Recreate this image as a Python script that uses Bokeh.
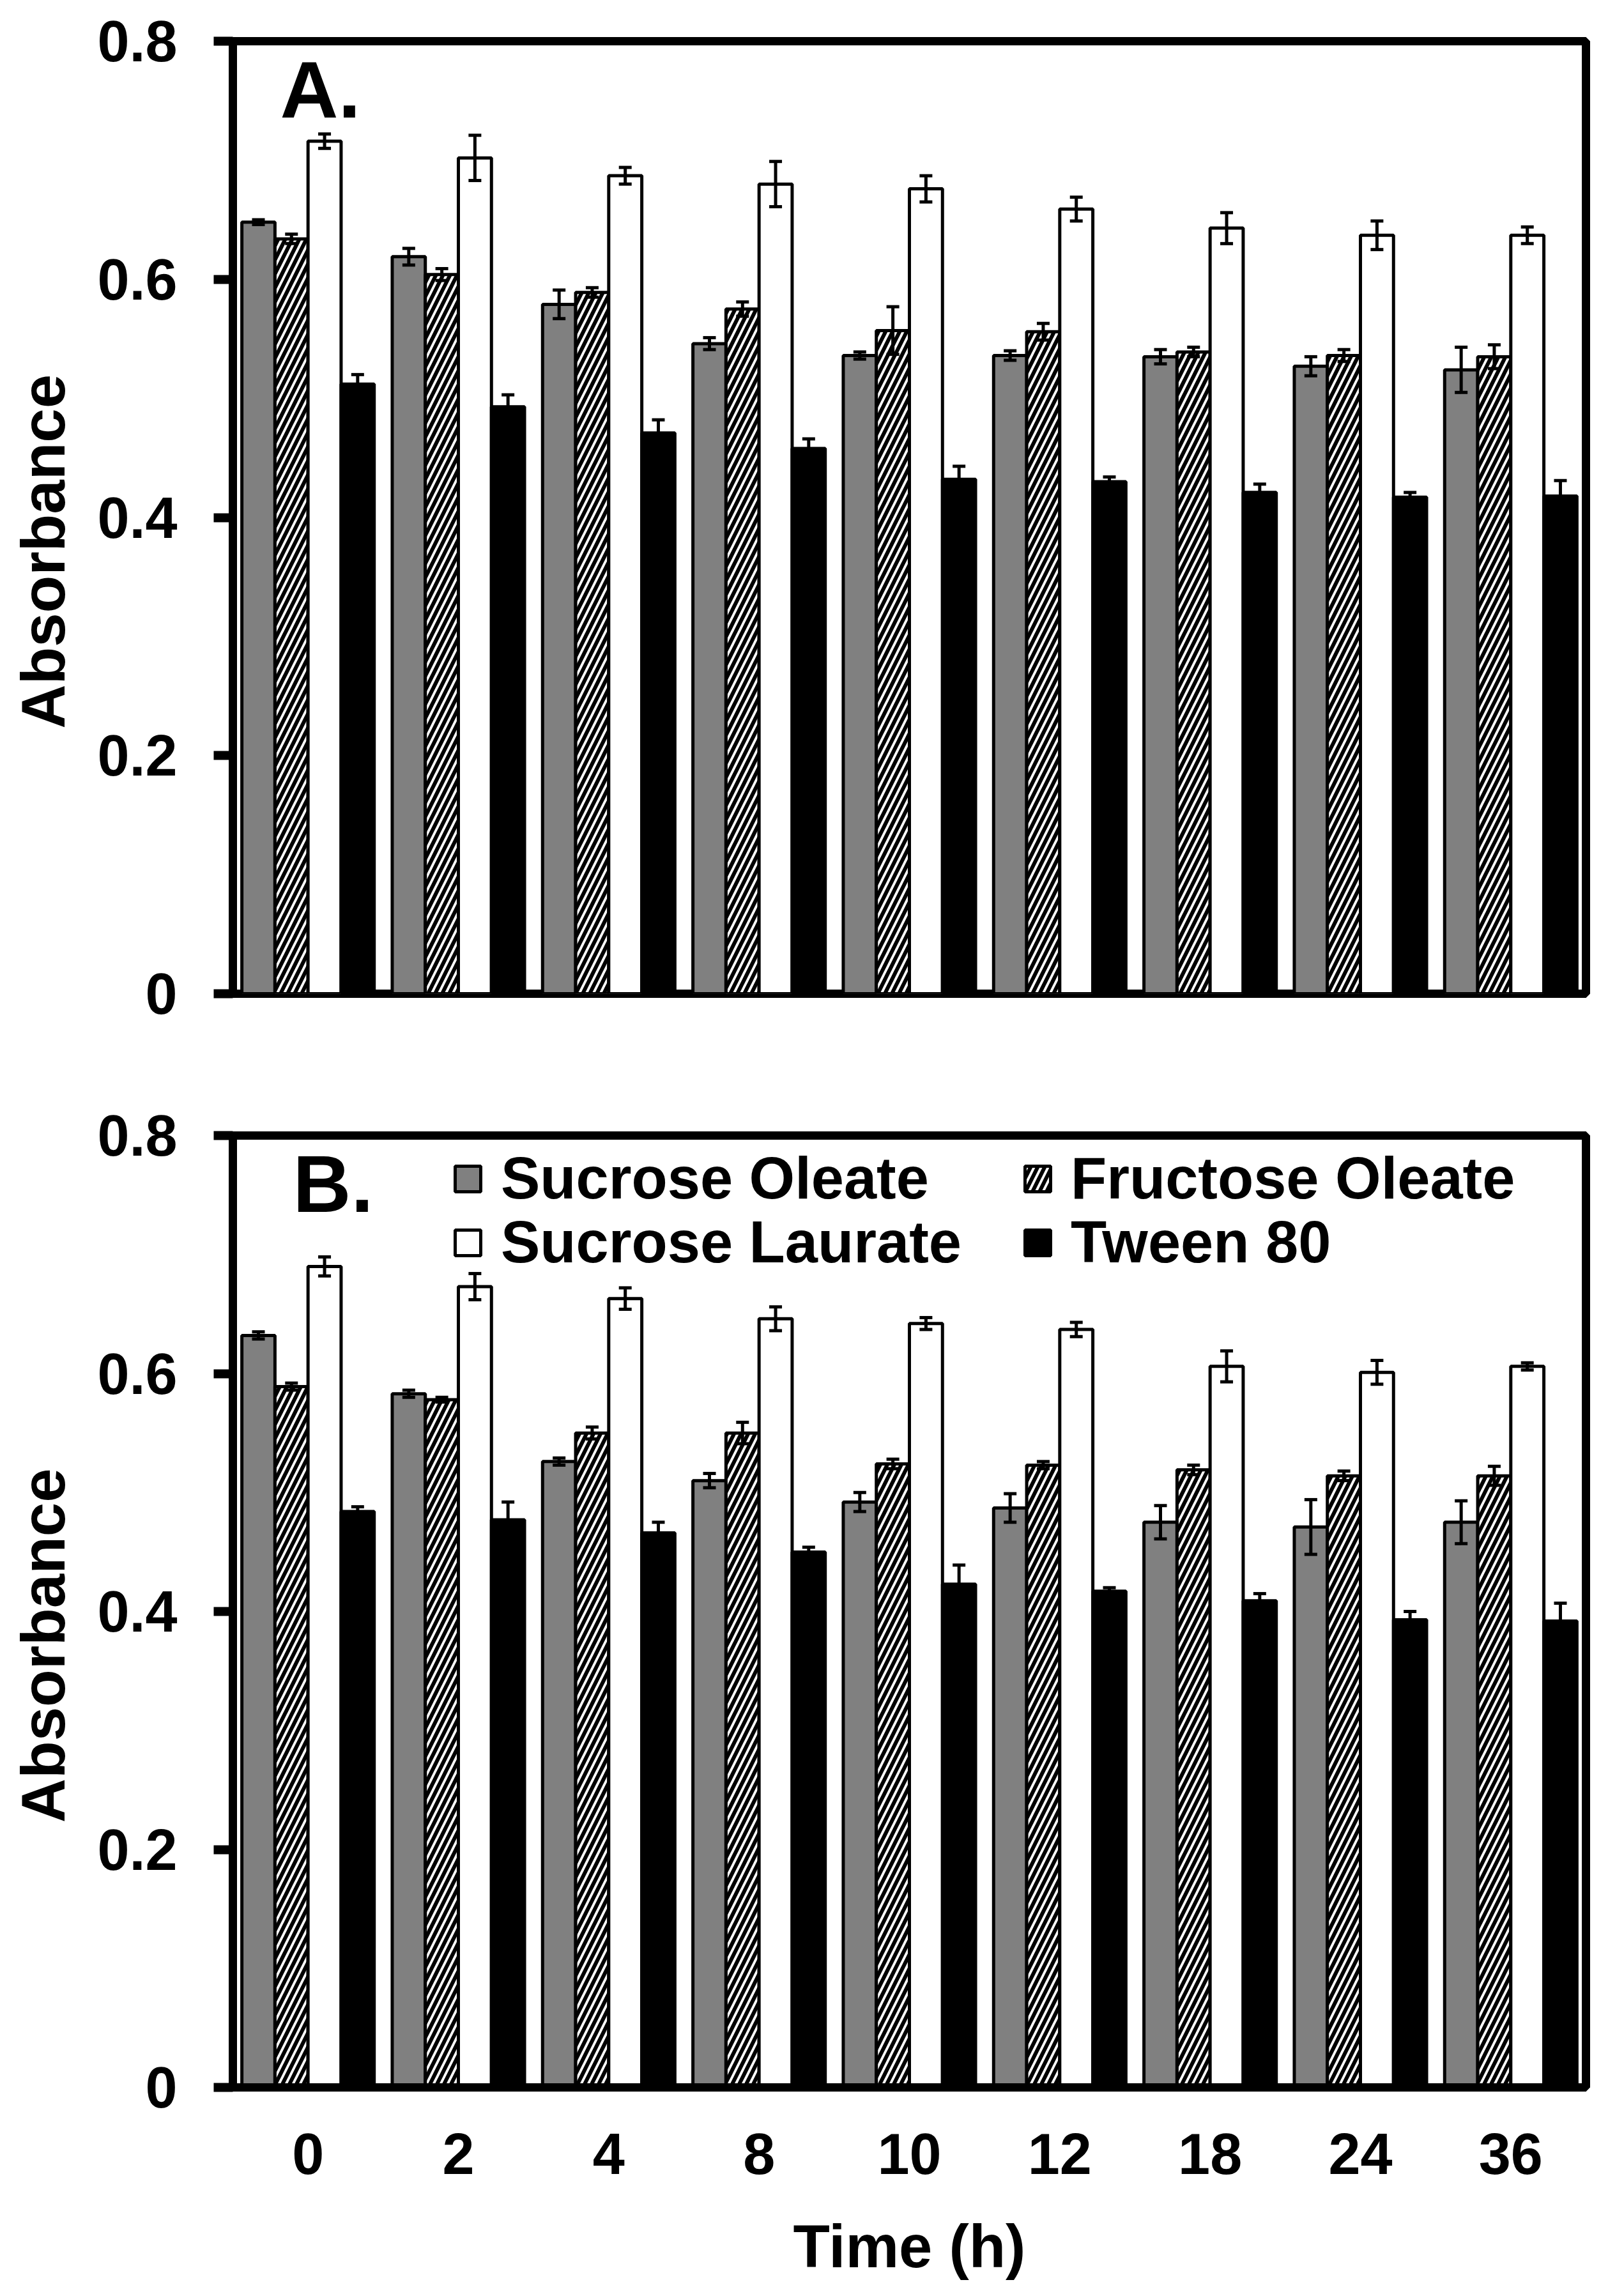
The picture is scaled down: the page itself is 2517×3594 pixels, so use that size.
from bokeh.plotting import figure
from bokeh.models import (ColumnDataSource, FactorRange, Range1d, FixedTicker,
                          Legend, LegendItem, Label)
from bokeh.transform import dodge
from bokeh.layouts import column
from bokeh.embed import file_html
from bokeh.resources import INLINE

# ---------------- data ----------------
times = ["0", "2", "4", "8", "10", "12", "18", "24", "36"]
series = ["Sucrose Oleate", "Fructose Oleate", "Sucrose Laurate", "Tween 80"]

# Panel A
a_so = [0.648, 0.619, 0.579, 0.546, 0.536, 0.536, 0.535, 0.527, 0.524]
a_so_err = [0.002, 0.007, 0.012, 0.005, 0.003, 0.004, 0.006, 0.008, 0.019]
a_fo = [0.634, 0.604, 0.589, 0.575, 0.557, 0.556, 0.539, 0.536, 0.535]
a_fo_err = [0.004, 0.005, 0.004, 0.006, 0.020, 0.007, 0.004, 0.005, 0.010]
a_sl = [0.716, 0.702, 0.687, 0.680, 0.676, 0.659, 0.643, 0.637, 0.637]
a_sl_err = [0.006, 0.019, 0.007, 0.019, 0.011, 0.010, 0.013, 0.012, 0.007]
a_tw = [0.512, 0.493, 0.471, 0.458, 0.432, 0.430, 0.421, 0.417, 0.418]
a_tw_err = [0.008, 0.010, 0.011, 0.008, 0.011, 0.004, 0.007, 0.004, 0.013]

# Panel B
b_so = [0.632, 0.583, 0.526, 0.510, 0.492, 0.487, 0.475, 0.471, 0.475]
b_so_err = [0.003, 0.003, 0.003, 0.006, 0.008, 0.012, 0.014, 0.023, 0.018]
b_fo = [0.589, 0.578, 0.550, 0.550, 0.524, 0.523, 0.519, 0.514, 0.514]
b_fo_err = [0.003, 0.002, 0.005, 0.009, 0.004, 0.003, 0.004, 0.004, 0.008]
b_sl = [0.690, 0.673, 0.663, 0.646, 0.642, 0.637, 0.606, 0.601, 0.606]
b_sl_err = [0.008, 0.011, 0.009, 0.010, 0.005, 0.006, 0.013, 0.010, 0.003]
b_tw = [0.484, 0.477, 0.466, 0.450, 0.423, 0.417, 0.409, 0.393, 0.392]
b_tw_err = [0.004, 0.015, 0.009, 0.004, 0.016, 0.003, 0.006, 0.007, 0.015]

y_ticks = [0, 0.2, 0.4, 0.6, 0.8]
y_tick_labels = ["0", "0.2", "0.4", "0.6", "0.8"]
y_title = "Absorbance"
x_title = "Time (h)"

FONT = "Liberation Sans"
offsets = [-0.33, -0.11, 0.11, 0.33]
BAR_W = 0.22
styles = [
    dict(fill_color="#808080", hatch_pattern=None),
    dict(fill_color="white", hatch_pattern="/"),
    dict(fill_color="white", hatch_pattern=None),
    dict(fill_color="black", hatch_pattern=None),
]


def make_panel(vals, errs, letter, height, top, bottom, show_x, legend, letter_x):
    p = figure(x_range=FactorRange(*times, range_padding=0), y_range=Range1d(0, 0.8),
               width=2500, height=height, output_backend="svg", toolbar_location=None,
               min_border_left=364, min_border_right=18, min_border_top=top,
               min_border_bottom=bottom)
    p.grid.visible = False
    p.outline_line_color = "black"
    p.outline_line_width = 13
    p.background_fill_color = "white"
    p.border_fill_color = "white"

    data = dict(time=times)
    for i in range(4):
        data[f"v{i}"] = vals[i]
        data[f"lo{i}"] = [v - e for v, e in zip(vals[i], errs[i])]
        data[f"hi{i}"] = [v + e for v, e in zip(vals[i], errs[i])]
    src = ColumnDataSource(data)

    renderers = []
    for i in range(4):
        st = styles[i]
        kw = dict(x=dodge("time", offsets[i], range=p.x_range), top=f"v{i}", width=BAR_W,
                  source=src, fill_color=st["fill_color"], line_color="black", line_width=5)
        if st["hatch_pattern"]:
            kw.update(hatch_pattern=st["hatch_pattern"], hatch_color="black",
                      hatch_weight=6, hatch_scale=22)
        r = p.vbar(**kw)
        renderers.append(r)
    for i in range(4):
        xd = dodge("time", offsets[i], range=p.x_range)
        p.segment(x0=xd, y0=f"lo{i}", x1=xd, y1=f"hi{i}", source=src,
                  line_color="black", line_width=5)
        p.scatter(x=xd, y=f"hi{i}", source=src, marker="dash", size=20,
                  line_color="black", line_width=5)
        p.scatter(x=xd, y=f"lo{i}", source=src, marker="dash", size=20,
                  line_color="black", line_width=5)

    # y axis
    ya = p.yaxis[0]
    ya.ticker = FixedTicker(ticks=y_ticks)
    ya.major_label_overrides = {t: l for t, l in zip(y_ticks, y_tick_labels)}
    # trailing no-break spaces push the title slightly below the frame centre, as in the source
    ya.axis_label = y_title + "\u00a0" * 4
    ya.axis_label_text_font = FONT
    ya.axis_label_text_font_style = "bold"
    ya.axis_label_text_font_size = "96px"
    ya.axis_label_text_color = "black"
    ya.axis_label_standoff = 28
    ya.major_label_text_font = FONT
    ya.major_label_text_font_style = "bold"
    ya.major_label_text_font_size = "90px"
    ya.major_label_text_color = "black"
    ya.major_label_standoff = 57
    ya.major_tick_out = 30
    ya.major_tick_in = 0
    ya.major_tick_line_width = 14
    ya.minor_tick_line_color = None
    ya.axis_line_width = 13

    xa = p.xaxis[0]
    if show_x:
        xa.axis_label = x_title
        xa.axis_label_text_font = FONT
        xa.axis_label_text_font_style = "bold"
        xa.axis_label_text_font_size = "94px"
        xa.axis_label_text_color = "black"
        xa.axis_label_standoff = 58
        xa.major_label_text_font = FONT
        xa.major_label_text_font_style = "bold"
        xa.major_label_text_font_size = "90px"
        xa.major_label_text_color = "black"
        xa.major_label_standoff = 72
        xa.major_tick_line_color = None
        xa.major_tick_out = 0
        xa.axis_line_width = 13
    else:
        xa.visible = False

    p.add_layout(Label(x=letter_x, y=0.759, x_units="screen",
                       text=letter, text_font=FONT, text_font_style="bold",
                       text_font_size="126px", text_color="black",
                       text_baseline="alphabetic"))

    if legend:
        pos = [(343, 1370), (1235, 1370), (343, 1270), (1235, 1270)]
        for i in range(4):
            leg = Legend(items=[LegendItem(label=series[i], renderers=[renderers[i]])],
                         location=pos[i], glyph_width=50, glyph_height=50,
                         label_height=50, label_standoff=27, padding=0, margin=0,
                         spacing=0, border_line_color=None, background_fill_alpha=0,
                         label_text_font=FONT, label_text_font_style="bold",
                         label_text_font_size="92px", label_text_color="black")
            p.add_layout(leg, "center")
    return p


pa = make_panel([a_so, a_fo, a_sl, a_tw], [a_so_err, a_fo_err, a_sl_err, a_tw_err],
                "A.", 1625, 64, 70, False, False, 74)
pb = make_panel([b_so, b_fo, b_sl, b_tw], [b_so_err, b_fo_err, b_sl_err, b_tw_err],
                "B.", 1961, 152, 319, True, True, 94)

layout = column(pa, pb, spacing=0)
open("out.html", "w").write(file_html(layout, INLINE))
